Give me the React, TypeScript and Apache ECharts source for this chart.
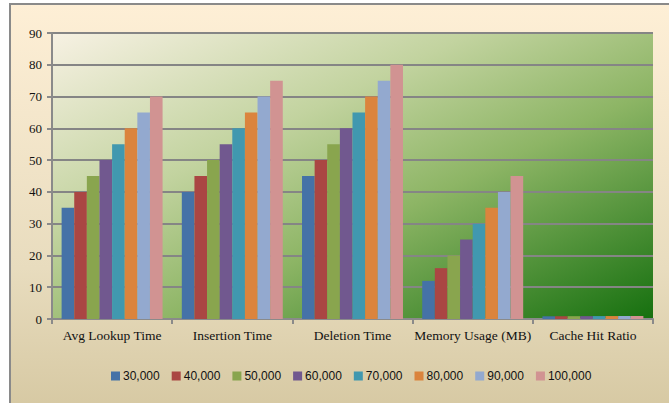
import React, { useEffect, useRef } from "react";
import * as echarts from "echarts";

const categories = ["Avg Lookup Time", "Insertion Time", "Deletion Time", "Memory Usage (MB)", "Cache Hit Ratio"];
const seriesNames = ["30,000", "40,000", "50,000", "60,000", "70,000", "80,000", "90,000", "100,000"];
const s30k = [35, 40, 45, 12, 0.85];
const s40k = [40, 45, 50, 16, 0.87];
const s50k = [45, 50, 55, 20, 0.89];
const s60k = [50, 55, 60, 25, 0.9];
const s70k = [55, 60, 65, 30, 0.92];
const s80k = [60, 65, 70, 35, 0.93];
const s90k = [65, 70, 75, 40, 0.94];
const s100k = [70, 75, 80, 45, 0.95];
const seriesValues = [s30k, s40k, s50k, s60k, s70k, s80k, s90k, s100k];
const colors = ["#4572A7", "#AA4643", "#89A54E", "#71588F", "#4198AF", "#DB843D", "#93A9CF", "#D19392"];
const yTicks = { min: 0, max: 90, interval: 10 };

export default function App() {
  const ref = useRef<HTMLDivElement>(null);
  useEffect(() => {
    if (!ref.current) return;
    const chart = echarts.init(ref.current, undefined, { renderer: "svg" });
    chart.setOption({
      animation: false,
      backgroundColor: "transparent",
      color: colors,
      graphic: [
        {
          type: "rect",
          silent: true,
          z: -10,
          shape: { x: 10, y: 4, width: 700, height: 440 },
          style: {
            fill: new echarts.graphic.LinearGradient(0, 0, 0, 1, [
              { offset: 0, color: "#FEEFD6" },
              { offset: 0.6, color: "#E8DCBE" },
              { offset: 1, color: "#D2C49C" },
            ]),
            stroke: "#8A8A8A",
            lineWidth: 2,
          },
        },
        {
          type: "rect",
          silent: true,
          z: -9,
          shape: { x: 52, y: 33, width: 601, height: 286 },
          style: {
            fill: new echarts.graphic.LinearGradient(0, 0, 1, 1, [
              { offset: 0, color: "#F7F1E3" },
              { offset: 0.35, color: "#C2D39F" },
              { offset: 0.6, color: "#8DB565" },
              { offset: 1, color: "#16700F" },
            ]),
          },
        },
      ],
      grid: { left: 52, top: 33, right: 16, bottom: 84, containLabel: false },
      legend: {
        data: seriesNames,
        left: 106,
        top: 365,
        icon: "rect",
        itemWidth: 9,
        itemHeight: 9,
        itemGap: 12,
        textStyle: { fontFamily: "Liberation Sans", fontSize: 12, color: "#111", padding: [0, 0, 0, -2] },
      },
      xAxis: {
        type: "category",
        data: categories,
        axisLine: { lineStyle: { color: "#8A8A8A", width: 2 } },
        axisTick: { show: true, length: 5, lineStyle: { color: "#8A8A8A", width: 2 } },
        axisLabel: { interval: 0, fontFamily: "Liberation Serif", fontSize: 13.5, color: "#111", margin: 9 },
      },
      yAxis: {
        type: "value",
        min: yTicks.min,
        max: yTicks.max,
        interval: yTicks.interval,
        axisLine: { show: true, lineStyle: { color: "#8A8A8A", width: 2 } },
        axisTick: { show: true, length: 5, lineStyle: { color: "#8A8A8A", width: 2 } },
        axisLabel: { fontFamily: "Liberation Serif", fontSize: 13, color: "#111", margin: 10 },
        splitLine: { lineStyle: { color: "#858585", width: 2 } },
      },
      series: seriesNames.map((name, i) => ({
        name,
        type: "bar",
        data: seriesValues[i],
        barGap: "0%",
        barCategoryGap: "16%",
        itemStyle: { color: colors[i] },
      })),
    });
    return () => chart.dispose();
  }, []);
  return (
    <div
      ref={ref}
      style={{ position: "absolute", left: 0, top: 0, width: 669, height: 403, overflow: "hidden" }}
    />
  );
}
